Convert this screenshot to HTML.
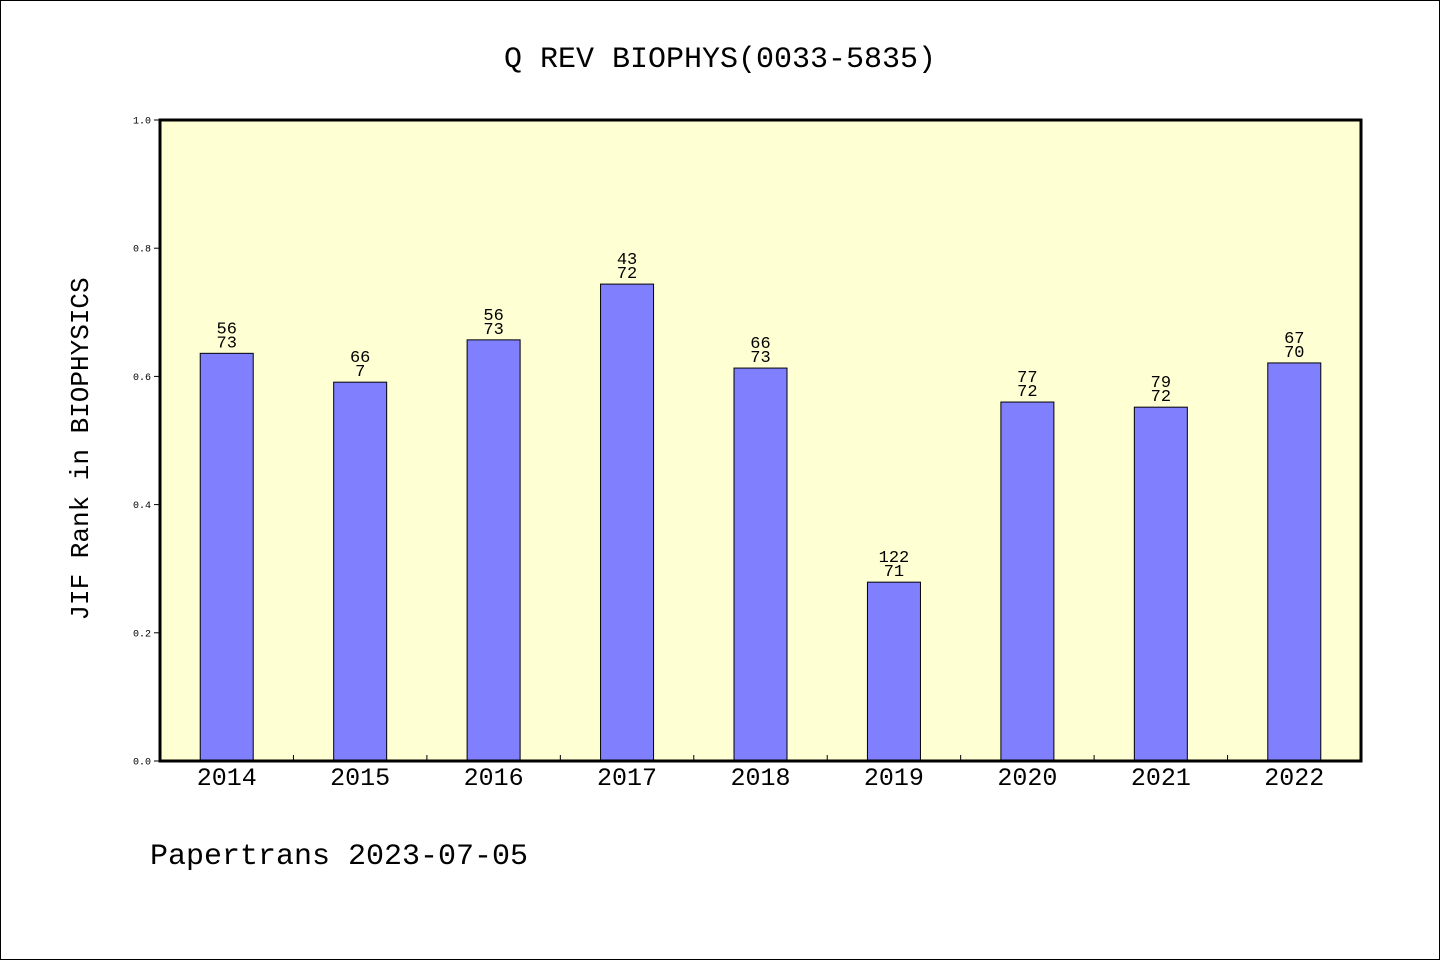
<!DOCTYPE html>
<html><head><meta charset="utf-8"><style>
html,body{margin:0;padding:0;background:#fff}
svg{display:block}
text{font-family:"Liberation Mono","DejaVu Sans Mono",monospace}
</style></head><body>
<svg width="1440" height="960" xmlns="http://www.w3.org/2000/svg">
<rect x="0.5" y="0.5" width="1439" height="959" fill="#fff" stroke="#000"/>
<text x="720" y="67" text-anchor="middle" font-size="30">Q REV BIOPHYS(0033-5835)</text>
<rect x="160" y="120" width="1201" height="641" fill="#ffffd4"/>
<g id="bars"></g>
<rect x="160" y="120" width="1201" height="641" fill="none" stroke="#000" stroke-width="3"/>
<g id="axes"></g>
<text transform="translate(88,449) rotate(-90)" text-anchor="middle" font-size="26">JIF Rank in BIOPHYSICS</text>
<text x="150" y="864" font-size="30">Papertrans 2023-07-05</text>
</svg>
<script>
const categories=["2014","2015","2016","2017","2018","2019","2020","2021","2022"];
const values=[0.636,0.591,0.657,0.744,0.613,0.279,0.560,0.552,0.621];
const ranks=["56","66","56","43","66","122","77","79","67"];
const totals=["73","7","73","72","73","71","72","72","70"];
const yTicks=[0,0.2,0.4,0.6,0.8,1.0];
const NS="http://www.w3.org/2000/svg";
const X0=160,X1=1361,Y0=761,Y1=120;
const slot=(X1-X0)/categories.length;
const y=v=>Y0-(Y0-Y1)*v;
const xc=i=>X0+slot*(i+0.5);
function mk(t,a,p){const e=document.createElementNS(NS,t);for(const k in a)e.setAttribute(k,a[k]);p.appendChild(e);return e;}
const bars=document.getElementById('bars'),axes=document.getElementById('axes');
categories.forEach((c,i)=>{
 const b=mk('rect',{x:xc(i)-26.5,y:y(values[i]),width:53,height:Y0-y(values[i]),fill:'#8080ff',stroke:'#000','stroke-width':1},bars);
 
 
 const t1=mk('text',{x:xc(i),y:y(values[i])-20,'text-anchor':'middle','font-size':17},bars);t1.textContent=ranks[i];
 
 
 const t2=mk('text',{x:xc(i),y:y(values[i])-6,'text-anchor':'middle','font-size':17},bars);t2.textContent=totals[i];
 
 
 const xl=mk('text',{x:xc(i),y:785,'text-anchor':'middle','font-size':25},axes);xl.textContent=c;
 
 
 if(i>0){const tk=mk('line',{x1:X0+slot*i,x2:X0+slot*i,y1:Y0,y2:Y0-6,stroke:'#000','stroke-width':1},axes);
 
 }
});
yTicks.forEach(v=>{
 const l=mk('line',{x1:154,x2:160,y1:y(v),y2:y(v),stroke:'#000','stroke-width':1},axes);
 
 
 const t=mk('text',{x:151,y:y(v)+3.5,'text-anchor':'end','font-size':10},axes);t.textContent=v.toFixed(1);
 
 
});
</script>
</body></html>
